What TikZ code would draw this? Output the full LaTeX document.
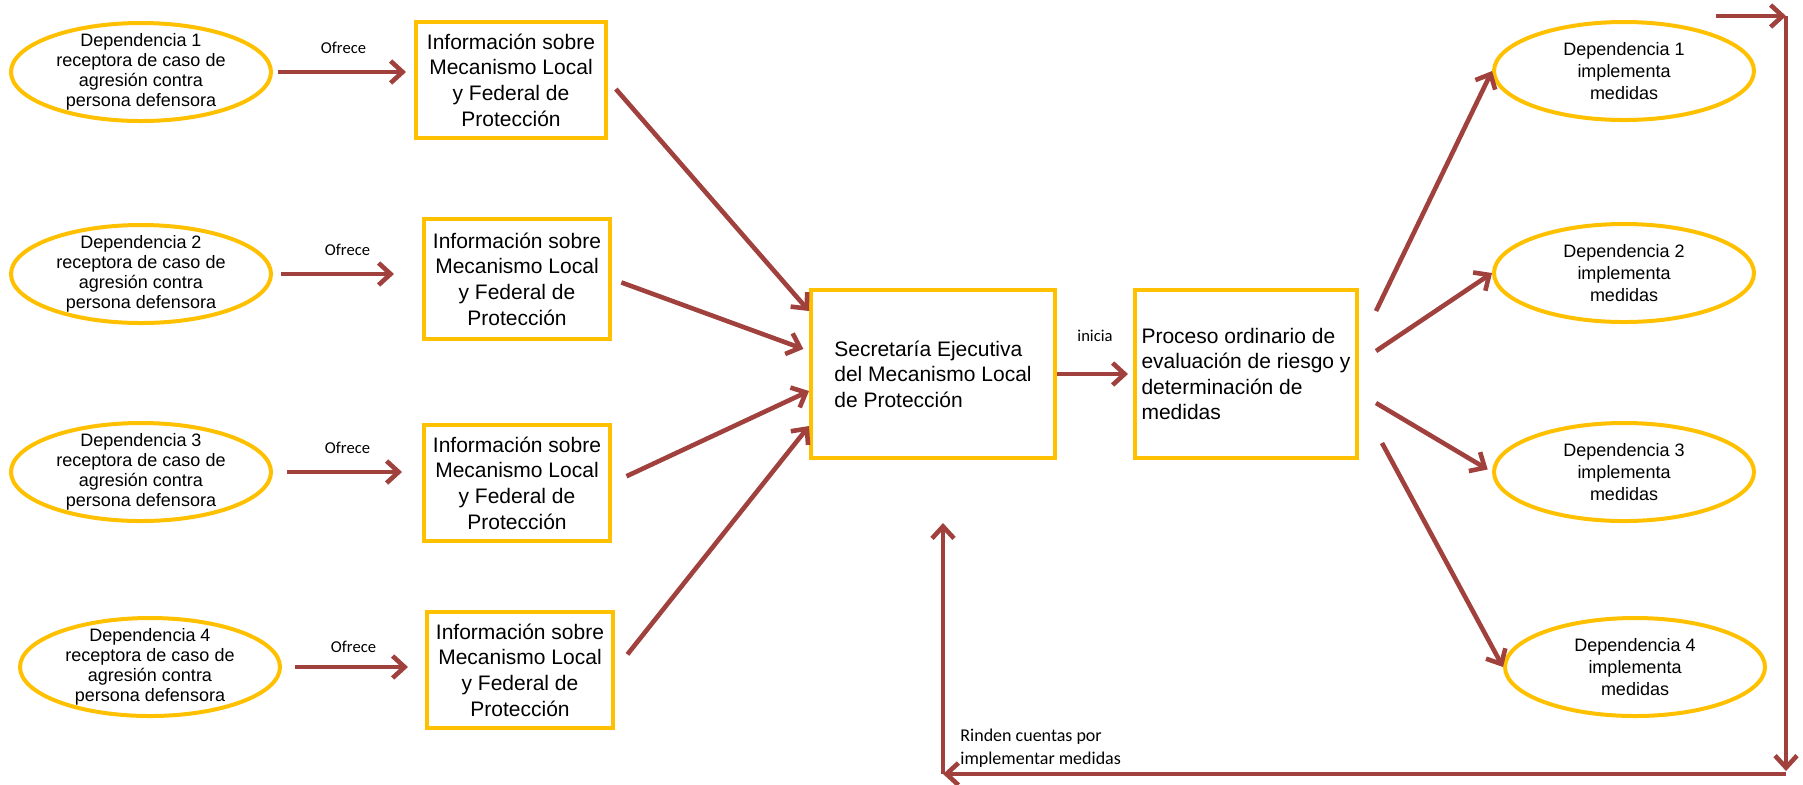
\documentclass[tikz,border=0pt]{standalone}
\usepackage{fontspec}
\setmainfont{Liberation Sans}
\newfontfamily\calibri{Carlito}
\usetikzlibrary{shapes.geometric,arrows.meta,calc}
\definecolor{amarillo}{HTML}{FFC000}
\definecolor{rojizo}{HTML}{A0413D}
\tikzset{
  dependencia/.style={ellipse, draw=amarillo, line width=2pt, minimum width=130pt, minimum height=49pt,
    inner xsep=0pt, inner ysep=-2.5pt, align=center, font=\fontsize{9}{10}\selectfont},
  infocaja/.style={rectangle, draw=amarillo, line width=2pt, minimum width=93pt, minimum height=58pt,
    inner sep=2pt, align=center, font=\fontsize{10.5}{12.8}\selectfont},
  grancaja/.style={rectangle, draw=amarillo, line width=2pt, minimum height=84pt,
    inner sep=3pt, align=left, font=\fontsize{10.5}{12.8}\selectfont},
  flecha/.style={draw=rojizo, line width=2.3pt, -{Straight Barb[length=6pt,width=11pt]}},
  etiqueta/.style={font=\calibri\fontsize{8.3}{10}\selectfont, inner sep=1pt}
}
\begin{document}
\begin{tikzpicture}[x=0.5pt,y=-0.5pt]
    \useasboundingbox (0,0) rectangle (1803,784);
    % dependencias receptoras
    \node[dependencia] (dep1) at (141,72) {Dependencia 1\\receptora de caso de\\agresión contra\\persona defensora};
    \node[dependencia] (dep2) at (141,274) {Dependencia 2\\receptora de caso de\\agresión contra\\persona defensora};
    \node[dependencia] (dep3) at (141,472) {Dependencia 3\\receptora de caso de\\agresión contra\\persona defensora};
    \node[dependencia] (dep4) at (150,667) {Dependencia 4\\receptora de caso de\\agresión contra\\persona defensora};
    % informacion
    \node[infocaja, minimum width=95pt] (info1) at (511,80) {Información sobre\\Mecanismo Local\\y Federal de\\Protección};
    \node[infocaja, minimum height=60pt] (info2) at (517,279) {Información sobre\\Mecanismo Local\\y Federal de\\Protección};
    \node[infocaja] (info3) at (517,483) {Información sobre\\Mecanismo Local\\y Federal de\\Protección};
    \node[infocaja] (info4) at (520,670) {Información sobre\\Mecanismo Local\\y Federal de\\Protección};
    % secretaria y proceso
    \node[grancaja, minimum width=122pt] (sec) at (933,374) {Secretaría Ejecutiva\\del Mecanismo Local\\de Protección};
    \node[grancaja, minimum width=111pt] (proc) at (1246,374) {Proceso ordinario de\\evaluación de riesgo y\\determinación de\\medidas};
    % dependencias que implementan
    \node[dependencia, font=\fontsize{9}{11}\selectfont] (imp1) at (1624,71) {Dependencia 1\\implementa\\medidas};
    \node[dependencia, font=\fontsize{9}{11}\selectfont] (imp2) at (1624,273) {Dependencia 2\\implementa\\medidas};
    \node[dependencia, font=\fontsize{9}{11}\selectfont] (imp3) at (1624,472) {Dependencia 3\\implementa\\medidas};
    \node[dependencia, font=\fontsize{9}{11}\selectfont] (imp4) at (1635,667) {Dependencia 4\\implementa\\medidas};

    \draw[flecha, shorten <=2.5pt, shorten >=4pt] (dep1.east) -- (dep1.east -| info1.west) node[midway, above=7pt, etiqueta] {Ofrece};
    \draw[flecha, shorten <=4pt, shorten >=14pt] (dep2.east) -- (dep2.east -| info2.west) node[midway, above=7pt, etiqueta] {Ofrece};
    \draw[flecha, shorten <=7pt, shorten >=10pt] (dep3.east) -- (dep3.east -| info3.west) node[midway, above=7pt, etiqueta] {Ofrece};
    \draw[flecha, shorten <=6.5pt, shorten >=8.5pt] (dep4.east) -- (dep4.east -| info4.west) node[midway, above=5pt, etiqueta] {Ofrece};

    \draw[flecha, shorten <=6pt] (info1.east) -- ([yshift=31.5pt]sec.west);
    \draw[flecha, shorten <=5pt, shorten >=3pt] (info2.east) -- ([yshift=11.5pt]sec.west);
    \draw[flecha, shorten <=8pt] (info3.east) -- ([yshift=-8.5pt]sec.west);
    \draw[flecha, shorten <=10pt] (info4.east) -- ([yshift=-26pt]sec.west);

    \draw[flecha, shorten >=2.5pt] (sec.east) -- (proc.west) node[midway, above=14pt, etiqueta] {inicia};

    \draw[flecha] ([xshift=8.5pt,yshift=31.5pt]proc.east) -- (imp1.west);
    \draw[flecha] ([xshift=8.5pt,yshift=11.5pt]proc.east) -- (imp2.west);
    \draw[flecha, shorten >=2.5pt] ([xshift=8.5pt,yshift=-14.5pt]proc.east) -- (imp3.west);
    \draw[flecha] ([xshift=11.5pt,yshift=-34.5pt]proc.east) -- (imp4.west);

    % rendicion de cuentas
    \coordinate (fbini) at (1716,16);
    \coordinate (esqsup) at (1786,16);
    \coordinate (esqinf) at (1786,774);
    \coordinate (esqizq) at (943,774);
    \coordinate (fbfin) at (943,523);
    \draw[flecha] (fbini) -- (esqsup);
    \draw[flecha, shorten >=1.5pt] (esqsup) -- (esqinf);
    \draw[flecha] (esqinf) -- (esqizq);
    \draw[flecha] (esqizq) -- (fbfin);
    \node[etiqueta, anchor=west, align=left, font=\calibri\fontsize{9}{11.5}\selectfont] (rinden) at (958,748) {Rinden cuentas por\\implementar medidas};
\end{tikzpicture}
\end{document}
